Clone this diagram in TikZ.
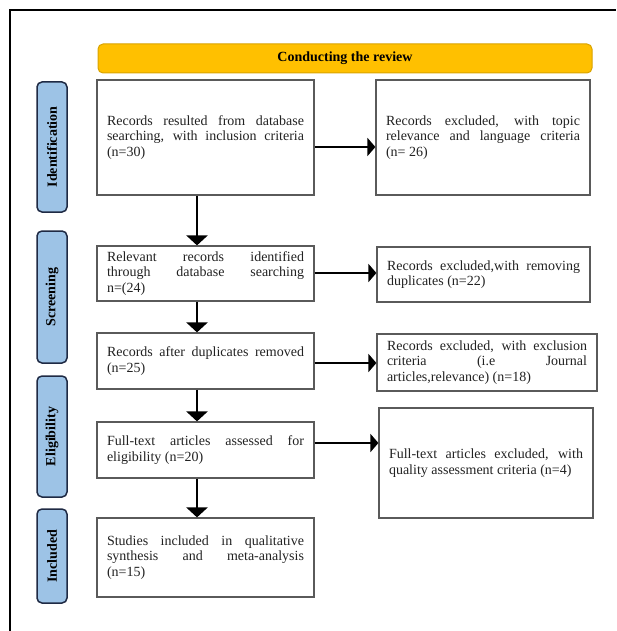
\documentclass[tikz,border=0pt]{standalone}
\usepackage{fontspec}
\setmainfont{Liberation Serif}
\usetikzlibrary{arrows.meta,calc}

\definecolor{boxline}{HTML}{5A5A5A}
\definecolor{bannerfill}{HTML}{FFC000}
\definecolor{bannerline}{HTML}{D9A300}
\definecolor{tabfill}{HTML}{9DC3E6}
\definecolor{tabline}{HTML}{1F2A44}
\definecolor{inktext}{HTML}{222222}

% text set-up for the flow boxes
\newcommand{\flowfont}{\fontsize{14}{15.5}\selectfont\tolerance=10000\relax\hyphenpenalty=10000\relax}

\tikzset{
  flowbox/.style={draw=boxline, line width=1.2pt, fill=white,
    inner xsep=10pt, inner ysep=0pt, align=justify, text=inktext,
    font=\flowfont},
  phasetab/.style={draw=tabline, line width=1.5pt, fill=tabfill,
    rounded corners=5pt, rotate=90, minimum height=30pt, inner sep=0pt,
    font=\fontsize{14}{16}\selectfont\bfseries, text=black},
  banner/.style={draw=bannerline, line width=1pt, fill=bannerfill,
    rounded corners=5pt, inner sep=0pt,
    font=\fontsize{14}{16}\selectfont\bfseries, text=black},
  harrow/.style={line width=2.5pt, -{Triangle[length=8pt,width=18pt]}},
  varrow/.style={line width=2.6pt, -{Triangle[length=10pt,width=21pt]}},
}

\begin{document}
\begin{tikzpicture}[x=1pt,y=-1pt]
\useasboundingbox (0,0) rectangle (616,631);

% page frame (top and left edges)
\draw[line width=2pt] (10,631) -- (10,10) -- (616,10);

% header banner
\node[banner, minimum width=494pt, minimum height=29pt] (head) at (345,58.5) {Conducting the review};

% phase tabs
\node[phasetab, minimum width=130pt] (tid) at (52,147) {Identification};
\node[phasetab, minimum width=132pt] (tsc) at (52,297) {Screening};
\node[phasetab, minimum width=121pt] (tel) at (52,436.5) {Eligibility};
\node[phasetab, minimum width=94pt]  (tin) at (52,556) {Included};

% main column
\node[flowbox, minimum width=217pt, minimum height=115pt, text width=197pt] (b1) at (205.5,137.5)
  {Records resulted from database\linebreak searching, with inclusion criteria\linebreak (n=30)};
\node[flowbox, minimum width=217pt, minimum height=55pt, text width=197pt] (b2) at (205.5,273.5)
  {Relevant records identified\linebreak through database searching\linebreak n=(24)};
\node[flowbox, minimum width=217pt, minimum height=56pt, text width=197pt] (b3) at (205.5,361)
  {Records after duplicates removed\linebreak (n=25)};
\node[flowbox, minimum width=217pt, minimum height=56pt, text width=197pt] (b4) at (205.5,450)
  {Full-text articles assessed for\linebreak eligibility (n=20)};
\node[flowbox, minimum width=217pt, minimum height=79pt, text width=197pt] (b5) at (205.5,557.5)
  {Studies included in qualitative\linebreak synthesis and meta-analysis\linebreak (n=15)};

% exclusion column
\node[flowbox, minimum width=214pt, minimum height=115pt, text width=194pt] (r1) at (483,137.5)
  {Records excluded, with topic\linebreak relevance and language criteria\linebreak (n= 26)};
\node[flowbox, minimum width=213pt, minimum height=55pt, text width=193pt] (r2) at (483.5,274.5)
  {Records excluded,with removing\linebreak duplicates (n=22)};
\node[flowbox, minimum width=220pt, minimum height=57pt, text width=200pt] (r3) at (487,362.5)
  {Records excluded, with exclusion\linebreak criteria (i.e Journal\linebreak articles,relevance) (n=18)};
\node[flowbox, minimum width=212pt, minimum height=110pt, text width=194pt] (r4) at (486,463)
  {Full-text articles excluded, with\linebreak quality assessment criteria (n=4)};

% arrows down the main column
\draw[varrow] ([xshift=-8.5pt]b1.south) -- ([xshift=-8.5pt]b1.south |- b2.north);
\draw[varrow] ([xshift=-8.5pt]b2.south) -- ([xshift=-8.5pt]b2.south |- b3.north);
\draw[varrow] ([xshift=-8.5pt]b3.south) -- ([xshift=-8.5pt]b3.south |- b4.north);
\draw[varrow] ([xshift=-8.5pt]b4.south) -- ([xshift=-8.5pt]b4.south |- b5.north);

% arrows to the exclusion boxes
\draw[harrow] ([yshift=-9.5pt]b1.east) -- ([yshift=-9.5pt]b1.east -| r1.west);
\draw[harrow] ([yshift=0.5pt]b2.east) -- ([yshift=0.5pt]b2.east -| r2.west);
\draw[harrow] ([yshift=-2pt]b3.east) -- ([yshift=-2pt]b3.east -| r3.west);
\draw[harrow] ([yshift=7pt]b4.east) -- ([yshift=7pt]b4.east -| r4.west);
\end{tikzpicture}
\end{document}
